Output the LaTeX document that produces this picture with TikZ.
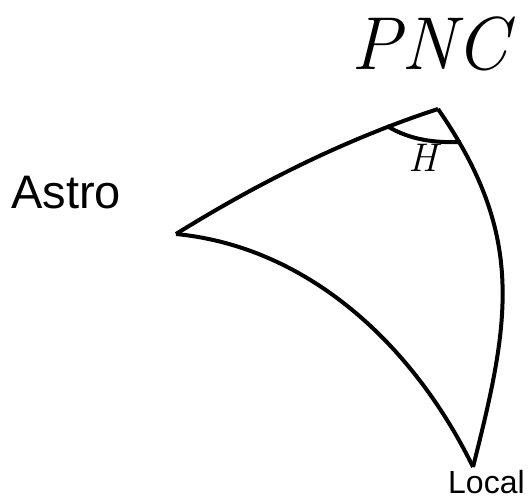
\documentclass[tikz,border=0pt]{standalone}
\usepackage{fontspec}
\newfontfamily\labelfont{Liberation Sans}
\tikzset{
    side/.style={line width=4pt, line join=miter},
    vertexlabel/.style={inner sep=0pt, anchor=base west, font=\labelfont},
}
\begin{document}
\begin{tikzpicture}[x=1pt, y=-1pt]
    \useasboundingbox (0,0) rectangle (528,500);

    % Vertices of the spherical triangle
    \coordinate (pnc) at (438,109);
    \coordinate (astro) at (176,234);
    \coordinate (local) at (473,467);

    % Sides
    \draw[side] (astro) .. controls (258,183) and (346,139) .. (pnc);
    \draw[side] (pnc) .. controls (526,236) and (510,321) .. (local);
    \draw[side] (astro) .. controls (309,247) and (414,346) .. (local);

    % Angle H at the pole
    \coordinate (hstart) at (387,126);
    \coordinate (hend) at (461,142);
    \draw[side] (hstart) .. controls (410,140) and (435,143) .. (hend);
    \node[inner sep=0pt, anchor=base] (hlabel) at (423,172) {\fontsize{40}{44}\selectfont\itshape H};

    % Labels
    \node[inner sep=0pt, anchor=base] (pnclabel) at (430,70) {\fontsize{75}{80}\selectfont\itshape PNC};
    \node[vertexlabel] (astrolabel) at (11,208) {\fontsize{47}{50}\selectfont Astro};
    \node[vertexlabel] (locallabel) at (448,493) {\fontsize{32}{36}\selectfont Local};
\end{tikzpicture}
\end{document}
